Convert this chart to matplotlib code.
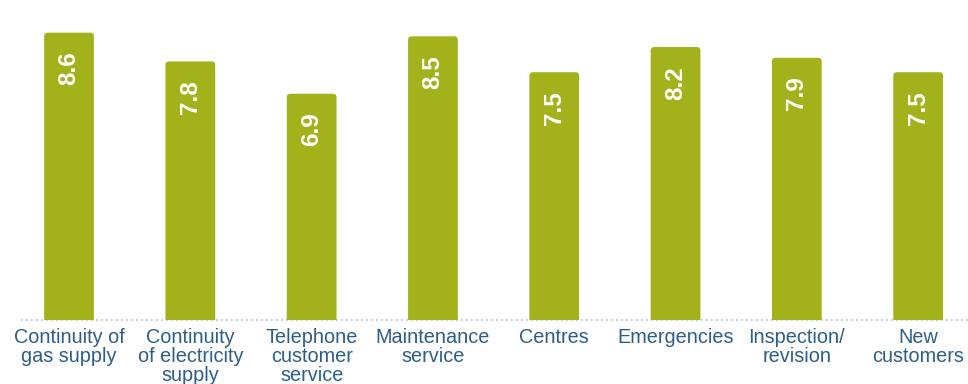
import matplotlib
matplotlib.use("Agg")
import matplotlib.pyplot as plt
from matplotlib.patches import FancyBboxPatch

categories = [
    "Continuity of\ngas supply",
    "Continuity\nof electricity\nsupply",
    "Telephone\ncustomer\nservice",
    "Maintenance\nservice",
    "Centres",
    "Emergencies",
    "Inspection/\nrevision",
    "New\ncustomers",
]
scores = [8.6, 7.8, 6.9, 8.5, 7.5, 8.2, 7.9, 7.5]
score_labels = ["8.6", "7.8", "6.9", "8.5", "7.5", "8.2", "7.9", "7.5"]

BAR_COLOR = "#a3b21b"
TEXT_COLOR = "#2d5e89"
DOT_COLOR = "#a9bfd0"

plt.rcParams["font.family"] = ["Liberation Sans", "DejaVu Sans"]

fig = plt.figure(figsize=(9.68, 3.84), dpi=100)
ax = fig.add_axes([0, 64 / 384, 1, 320 / 384])

x = list(range(len(scores)))
bars = ax.bar(x, scores, width=0.41, color=BAR_COLOR, zorder=2)

ax.set_xlim(-0.569, 7.411)
ax.set_ylim(0.6, 9.51)

# swap the square bars for ones with softly rounded top corners
for b in bars:
    bx, by = b.get_xy()
    rounded = FancyBboxPatch((bx, by), b.get_width(), b.get_height(),
                             boxstyle="round,pad=0,rounding_size=0.03",
                             mutation_aspect=3.38, facecolor=BAR_COLOR,
                             edgecolor="none", zorder=2)
    b.set_visible(False)
    ax.add_patch(rounded)

for xi, label, v in zip(x, score_labels, scores):
    ax.annotate(label, (xi, v), xytext=(0, -13.5), textcoords="offset points",
                rotation=90, ha="center", va="top", color="white",
                fontsize=17.5, fontweight="bold", zorder=3)

# dotted baseline
ax.plot([-0.4, 7.411], [0.6, 0.6], linestyle=(0, (1, 2)), color=DOT_COLOR,
        linewidth=1.2, clip_on=False, zorder=1)

for xi, cat in zip(x, categories):
    ax.annotate(cat, (xi, 0.6), xytext=(0, -6), textcoords="offset points",
                ha="center", va="top", color=TEXT_COLOR, fontsize=14.3,
                linespacing=1.0, annotation_clip=False)

ax.axis("off")
fig.savefig("out.png", dpi=100)
